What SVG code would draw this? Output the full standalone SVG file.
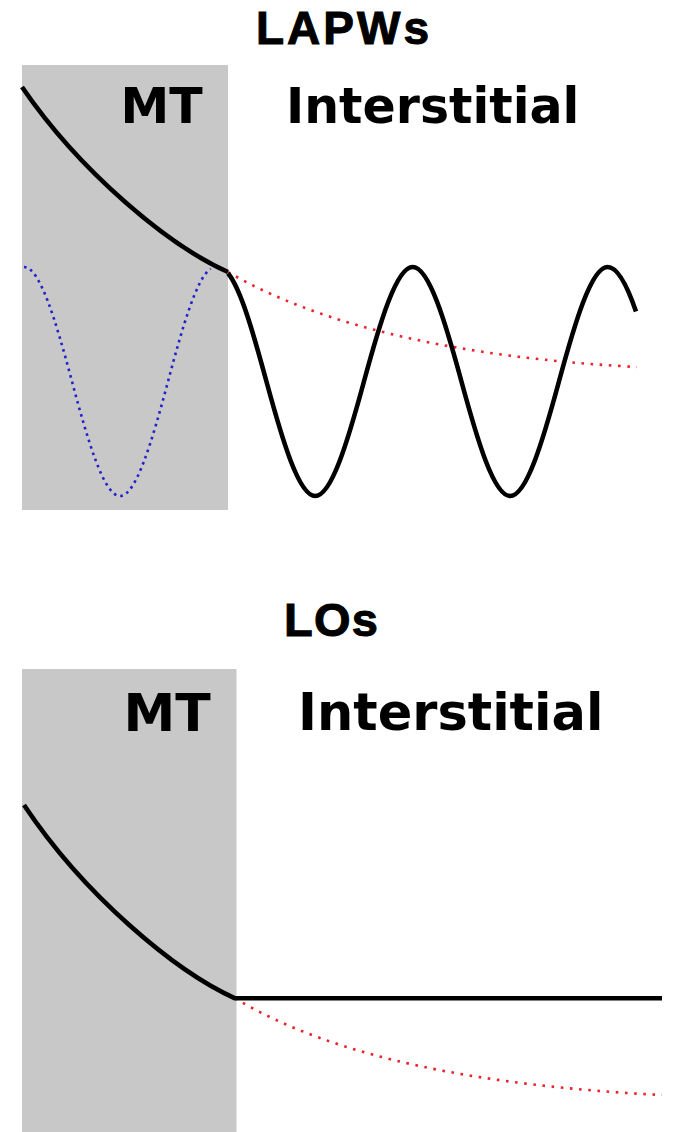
<svg xmlns="http://www.w3.org/2000/svg" width="674" height="1132" viewBox="0 0 674 1132">
  <style>
    .mt { fill: #c8c8c8; }
    .title { font-family: "Liberation Sans", Arial, Helvetica, sans-serif; font-weight: 700; fill: #000; stroke: #000; stroke-width: 1; }
    .lbl { font-family: "DejaVu Sans", "Liberation Sans", sans-serif; font-weight: bold; fill: #000; }
    .solid { fill: none; stroke: #000; stroke-width: 4.6; stroke-linejoin: round; }
    .red { fill: none; stroke: #e8242c; stroke-width: 2.6; stroke-dasharray: 2.6 6.6; }
    .blue { fill: none; stroke: #2222cc; stroke-width: 2.6; stroke-dasharray: 2.6 4.1; }
  </style>
  <rect width="674" height="1132" fill="#ffffff"/>

  <g id="panel-lapw">
    <rect class="mt" x="22" y="65" width="206" height="445"/>
    <text class="title" x="256" y="44" font-size="46" letter-spacing="3">LAPWs</text>
    <text class="lbl" x="120.5" y="123.3" font-size="49">MT</text>
    <text class="lbl" x="286" y="122.5" font-size="49">Interstitial</text>
    <path class="blue" d="M24,267 C40,267 56,321.55 72,381.5 C88,441.45 104,496 120,496 C136,496 152,441.45 168,381.5 C182.23,328.17 196.47,277.93 210.7,268.72"/>
    <path class="red" d="M228,272 C324,328 466,358 637,367"/>
    <path class="solid" d="M22,87 C81,173 169.4,246 228,272"/>
    <path class="solid" d="M228,273.24 C240.82,288.63 253.63,334.21 266.45,381.5 C282.7,441.45 298.95,496 315.2,496 C331.45,496 347.7,441.45 363.95,381.5 C380.2,321.55 396.45,267 412.7,267 C428.95,267 445.2,321.55 461.45,381.5 C477.7,441.45 493.95,496 510.2,496 C526.45,496 542.7,441.45 558.95,381.5 C575.2,321.55 591.45,267 607.7,267 C617.13,267 626.57,283.93 636,311.46"/>
  </g>

  <g id="panel-lo">
    <rect class="mt" x="22" y="669" width="214.5" height="463"/>
    <text class="title" x="284" y="636" font-size="47" letter-spacing="1.2">LOs</text>
    <text class="lbl" x="123.6" y="731" font-size="52">MT</text>
    <text class="lbl" x="298" y="730" font-size="51">Interstitial</text>
    <path class="red" d="M235,998.3 C335,1058.3 482,1086 662,1095"/>
    <path class="solid" d="M24,805 C84,895 175,971.3 235,998.3 L662,998.3"/>
  </g>
</svg>
